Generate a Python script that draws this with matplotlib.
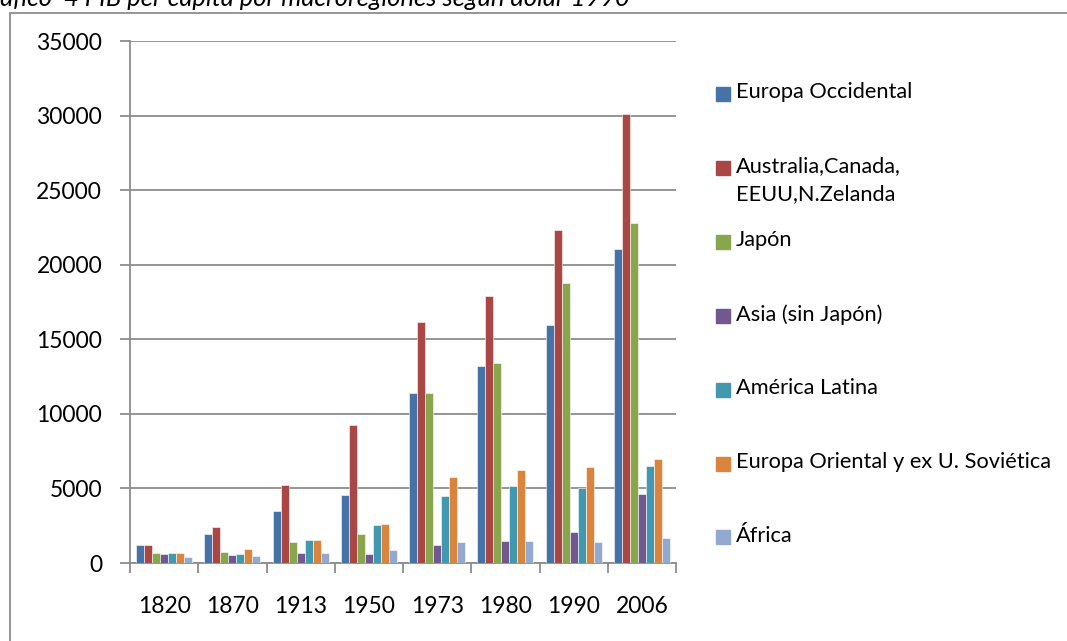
import numpy as np
import matplotlib
matplotlib.use("Agg")
import matplotlib.pyplot as plt
from matplotlib.patches import Rectangle

plt.rcParams['font.family'] = ['Lato', 'DejaVu Sans']

# Años (categorías del eje x)
years = ["1820", "1870", "1913", "1950", "1973", "1980", "1990", "2006"]

# PIB per cápita por macroregión (dólares 1990)
europa_occidental = [1200, 1960, 3460, 4590, 11420, 13200, 15950, 21080]
australia_canada_eeuu_nz = [1200, 2410, 5240, 9270, 16180, 17910, 22300, 30110]
japon = [660, 730, 1390, 1920, 11430, 13420, 18770, 22810]
asia_sin_japon = [570, 520, 650, 635, 1210, 1480, 2070, 4600]
america_latina = [680, 630, 1510, 2520, 4480, 5150, 5050, 6480]
europa_oriental_urss = [680, 945, 1570, 2610, 5740, 6210, 6430, 7000]
africa = [410, 480, 650, 880, 1390, 1500, 1420, 1660]

series_names = ["Europa Occidental", "Australia,Canada,\nEEUU,N.Zelanda", "Japón",
                "Asia (sin Japón)", "América Latina",
                "Europa Oriental y ex U. Soviética", "África"]
series = [europa_occidental, australia_canada_eeuu_nz, japon, asia_sin_japon,
          america_latina, europa_oriental_urss, africa]
colors = ["#4572A7", "#AA4643", "#89A54E", "#71588F", "#4198AF", "#DB843D", "#93A9CF"]

W, H = 1067, 641
fig = plt.figure(figsize=(W / 100, H / 100), dpi=100)

# marco exterior del gráfico (se corta a la derecha y abajo)
fig.patches.append(Rectangle((10 / W, -0.1), 1.2, (H - 12.5) / H + 0.1,
                             transform=fig.transFigure, fill=False,
                             edgecolor="#8c8c8c", linewidth=1.3))

# título, cortado por el borde superior como en el original
fig.text(630 / W, 1 - 6 / H, "Gráfico  4 PIB per capita por macroregiones según dolar 1990",
         ha="right", va="baseline", fontsize=18.4, style="italic", color="black")

ax = fig.add_axes([130 / W, (H - 563) / H, 546 / W, 522 / H])

n = len(series)
w = 1 / 8.5
x = np.arange(len(years))
for i, (vals, col) in enumerate(zip(series, colors)):
    ax.bar(x + (i - (n - 1) / 2) * w, vals, width=w, color=col,
           edgecolor="white", linewidth=0.4, zorder=3)

ax.set_xlim(-0.5, len(years) - 0.5)
ax.set_ylim(0, 35000)
ax.set_yticks(np.arange(0, 35001, 5000))
ax.set_xticks(x)
ax.set_xticklabels(years)
ax.set_xticks(np.arange(-0.5, len(years)), minor=True)
ax.tick_params(axis="x", which="major", length=0, pad=24, labelsize=16.5)
ax.tick_params(axis="x", which="minor", length=7, width=1.3, color="#8c8c8c")
ax.tick_params(axis="y", length=7, width=1.3, color="#8c8c8c", pad=13, labelsize=16.5)
ax.grid(axis="y", color="#8c8c8c", linewidth=1.3, zorder=0)
for s in ["top", "right"]:
    ax.spines[s].set_visible(False)
for s in ["left", "bottom"]:
    ax.spines[s].set_color("#8c8c8c")
    ax.spines[s].set_linewidth(1.3)

# leyenda manual (estilo Excel)
for i, (name, col) in enumerate(zip(series_names, colors)):
    yc = 94 + 73.9 * i
    fig.patches.append(Rectangle((716 / W, 1 - (yc + 7) / H), 14 / W, 14 / H,
                                 transform=fig.transFigure, color=col))
    fig.text(736 / W, 1 - (yc - 11.5) / H, name, ha="left", va="top",
             fontsize=15.7, linespacing=1.5)

fig.savefig("out.png", dpi=100)
